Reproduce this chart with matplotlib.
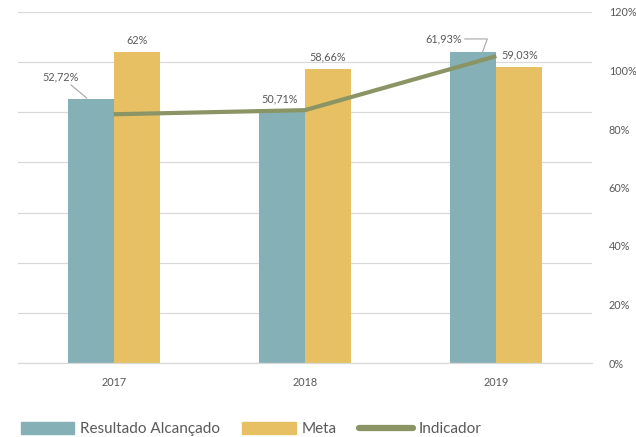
import matplotlib.pyplot as plt
import numpy as np
from matplotlib.lines import Line2D
from matplotlib.patches import Patch

# data
anos = ['2017', '2018', '2019']
resultado = [52.72, 50.71, 61.93]
meta = [62, 58.66, 59.03]
indicador = [r / m * 100 for r, m in zip(resultado, meta)]

lbl_resultado = ['52,72%', '50,71%', '61,93%']
lbl_meta = ['62%', '58,66%', '59,03%']

c_res = '#85B1B6'
c_meta = '#E6C062'
c_ind = '#8A9465'
c_grid = '#D9D9D9'
c_txt = '#595959'

plt.rcParams['font.family'] = ['Lato', 'DejaVu Sans']

fig = plt.figure(figsize=(6.36, 4.37), dpi=100)
ax = fig.add_axes([18 / 636, 1 - 363 / 437, 574 / 636, 351 / 437])
ax2 = ax.twinx()

x = np.arange(len(anos))
w = 0.24
ax.bar(x - w / 2, resultado, w, color=c_res, zorder=2)
ax.bar(x + w / 2, meta, w, color=c_meta, zorder=2)

ax.set_ylim(0, 70)
ax.set_xlim(-0.5, 2.5)
ax.set_yticks(np.arange(0, 71, 10))
ax.yaxis.grid(True, color=c_grid, linewidth=0.9, zorder=0)
ax.tick_params(axis='y', left=False, labelleft=False)
ax.tick_params(axis='x', length=0, pad=10, labelsize=7.8, labelcolor=c_txt)
ax.set_xticks(x)
ax.set_xticklabels(anos)
for s in ['top', 'left', 'right']:
    ax.spines[s].set_visible(False)
ax.spines['bottom'].set_color(c_grid)
ax.spines['bottom'].set_linewidth(0.9)

ax2.plot(x, indicador, color=c_ind, linewidth=3, zorder=5, solid_capstyle='butt')
ax2.set_ylim(0, 120)
ax2.set_yticks(np.arange(0, 121, 20))
ax2.set_yticklabels([f'{v}%' for v in range(0, 121, 20)])
ax2.tick_params(axis='y', length=0, pad=12, labelsize=7.8, labelcolor=c_txt)
for s in ['top', 'left', 'right', 'bottom']:
    ax2.spines[s].set_visible(False)

kw = dict(fontsize=7.8, color=c_txt, ha='center', va='bottom')
# Resultado labels
ax.annotate(lbl_resultado[0], xy=(x[0] - w / 2 - 0.02, resultado[0] + 0.1),
            xytext=(x[0] - w * 1.15, resultado[0] + 3.3),
            arrowprops=dict(arrowstyle='-', color='#A6A6A6', lw=0.8,
                            shrinkA=0, shrinkB=0), **kw)
ax.text(x[1] - w * 0.55, resultado[1] + 0.9, lbl_resultado[1], **kw)
ax.annotate(lbl_resultado[2], xy=(x[2] - w * 0.3, resultado[2] + 0.1),
            xytext=(x[2] - w * 1.15, resultado[2] + 1.6),
            arrowprops=dict(arrowstyle='-', color='#A6A6A6', lw=0.8,
                            shrinkA=0, shrinkB=0,
                            connectionstyle='angle,angleA=0,angleB=70,rad=0'),
            **kw)
# Meta labels
for i in range(3):
    ax.text(x[i] + w / 2, meta[i] + 1.3, lbl_meta[i], **kw)

handles = [Patch(color=c_res, label='Resultado Alcançado'),
           Patch(color=c_meta, label='Meta'),
           Line2D([0], [0], color=c_ind, lw=4.5, label='Indicador',
                  solid_capstyle='round')]
fig.legend(handles=handles, loc='lower left', bbox_to_anchor=(0.011, -0.03),
           ncol=3, frameon=False, fontsize=11, labelcolor=c_txt,
           handlelength=3.5, handleheight=0.85, handletextpad=0.4,
           columnspacing=1.45)

fig.savefig('out.png', dpi=100)
